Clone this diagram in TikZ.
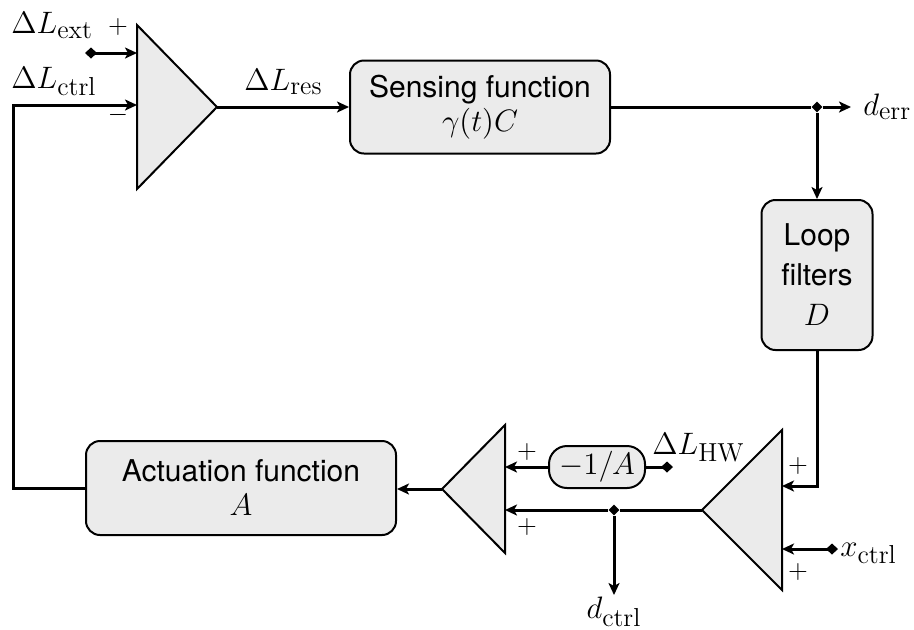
\RequirePackage{fix-cm}
\documentclass[tikz,border=0pt]{standalone}
\usepackage[no-math]{fontspec}
\setmainfont{TeX Gyre Heros}
\DeclareMathSizes{15}{15.5}{13}{10}
\usetikzlibrary{arrows.meta,positioning,shapes.geometric}

\begin{document}
\begin{tikzpicture}[x=0.5pt,y=-0.5pt,
  every node/.style={font=\fontsize{15}{17}\selectfont},
  block/.style={draw,fill=black!8,rounded corners=7pt,line width=1pt,align=center,inner sep=0pt},
  amp/.style={draw,fill=black!8,line width=1pt},
  wire/.style={line width=1.5pt},
  sig/.style={wire,-{Stealth[length=6pt,width=5.5pt,inset=1.5pt]}},
  feed/.style={wire,{Diamond[length=6pt,width=5.5pt]}-{Stealth[length=6pt,width=5.5pt,inset=1.5pt]}},
  tap/.style={diamond,fill,inner sep=0pt,minimum size=5.5pt},
  sgn/.style={inner sep=0pt,font=\fontsize{13}{15}\selectfont}]
\useasboundingbox (0,0) rectangle (914,629);

% the three amplifiers
\draw[amp] (137,25) -- (217,107) -- (137,189) -- cycle;   % residual sum
\coordinate (sumA in1) at (137,53); \coordinate (sumA in2) at (137,105); \coordinate (sumA out) at (217,107);
\draw[amp] (782,430) -- (702,510) -- (782,590) -- cycle;  % control sum
\coordinate (sumB in1) at (782,486); \coordinate (sumB in2) at (782,549); \coordinate (sumB out) at (702,510);
\draw[amp] (505,425) -- (442,489) -- (505,553) -- cycle;  % hardware injection sum
\coordinate (sumC in1) at (505,467); \coordinate (sumC in2) at (505,510); \coordinate (sumC out) at (442,489);

% the blocks
\node[block,minimum width=130pt,minimum height=46.5pt] (sense) at (480,107) {Sensing function\\$\gamma(t)C$};
\node[block,minimum width=55.5pt,minimum height=75pt,font=\fontsize{15}{20}\selectfont] (filters) at (817,275) {Loop\\filters\\$D$};
\node[block,minimum width=155pt,minimum height=47pt] (actuate) at (241,488) {Actuation function\\$A$};
\node[block,rounded corners=9pt,minimum width=48pt,minimum height=21pt] (invA) at (597,467) {$-1/A$};

% taps and free ends
\node[tap] (errtap) at (filters.north |- sense.east) {};
\node[tap] (ctrltap) at (614,510) {};
\coordinate (errend) at (851,107);
\coordinate (ctrlend) at (614,595);
\coordinate (extsrc) at (85,53);
\coordinate (hwsrc) at (673,467);
\coordinate (xsrc) at (838,549);

% forward path
\draw[feed] (extsrc) -- (sumA in1);
\draw[sig] (sumA out) -- (sense.west);
\draw[wire] (sense.east) -- (errtap);
\draw[sig] (errtap) -- (errend);
\draw[sig] (errtap) -- (filters.north);
\draw[sig] (filters.south) |- (sumB in1);
\draw[feed] (xsrc) -- (sumB in2);
\draw[wire] (sumB out) -- (ctrltap);
\draw[sig] (ctrltap) -- (sumC in2);
\draw[sig] (ctrltap) -- (ctrlend);
\draw[wire,{Diamond[length=6pt,width=5.5pt]}-] (hwsrc) -- (invA.east);
\draw[sig] (invA.west) -- (sumC in1);
\draw[sig] (sumC out) -- (sumC out -| actuate.east);
\draw[sig] (actuate.west) -- ++(-72,0) |- (sumA in2);   % feedback

% labels
\node[anchor=base west,inner sep=0pt] (lblext) at (11,33) {$\Delta L_{\mathrm{ext}}$};
\node[anchor=base west,inner sep=0pt] (lblctrl) at (11,88) {$\Delta L_{\mathrm{ctrl}}$};
\node[anchor=base west,inner sep=0pt] (lblres) at (244,90) {$\Delta L_{\mathrm{res}}$};
\node[anchor=base west,inner sep=0pt] (lblerr) at (863,115) {$d_{\mathrm{err}}$};
\node[anchor=base west,inner sep=0pt] (lblx) at (840,556) {$x_{\mathrm{ctrl}}$};
\node[anchor=base west,inner sep=0pt] (lblhw) at (652,454) {$\Delta L_{\mathrm{HW}}$};
\node[anchor=north,inner sep=0pt] (lbldctrl) at ([yshift=-1pt]ctrlend) {$d_{\mathrm{ctrl}}$};
\node[sgn] (sgnAp) at (118,27) {$+$};
\node[sgn] (sgnAm) at (118,115) {$-$};
\node[sgn] (sgnBp) at (798,466) {$+$};
\node[sgn] (sgnBq) at (798,572) {$+$};
\node[sgn] (sgnCp) at (527,452) {$+$};
\node[sgn] (sgnCq) at (527,527) {$+$};
\end{tikzpicture}
\end{document}
